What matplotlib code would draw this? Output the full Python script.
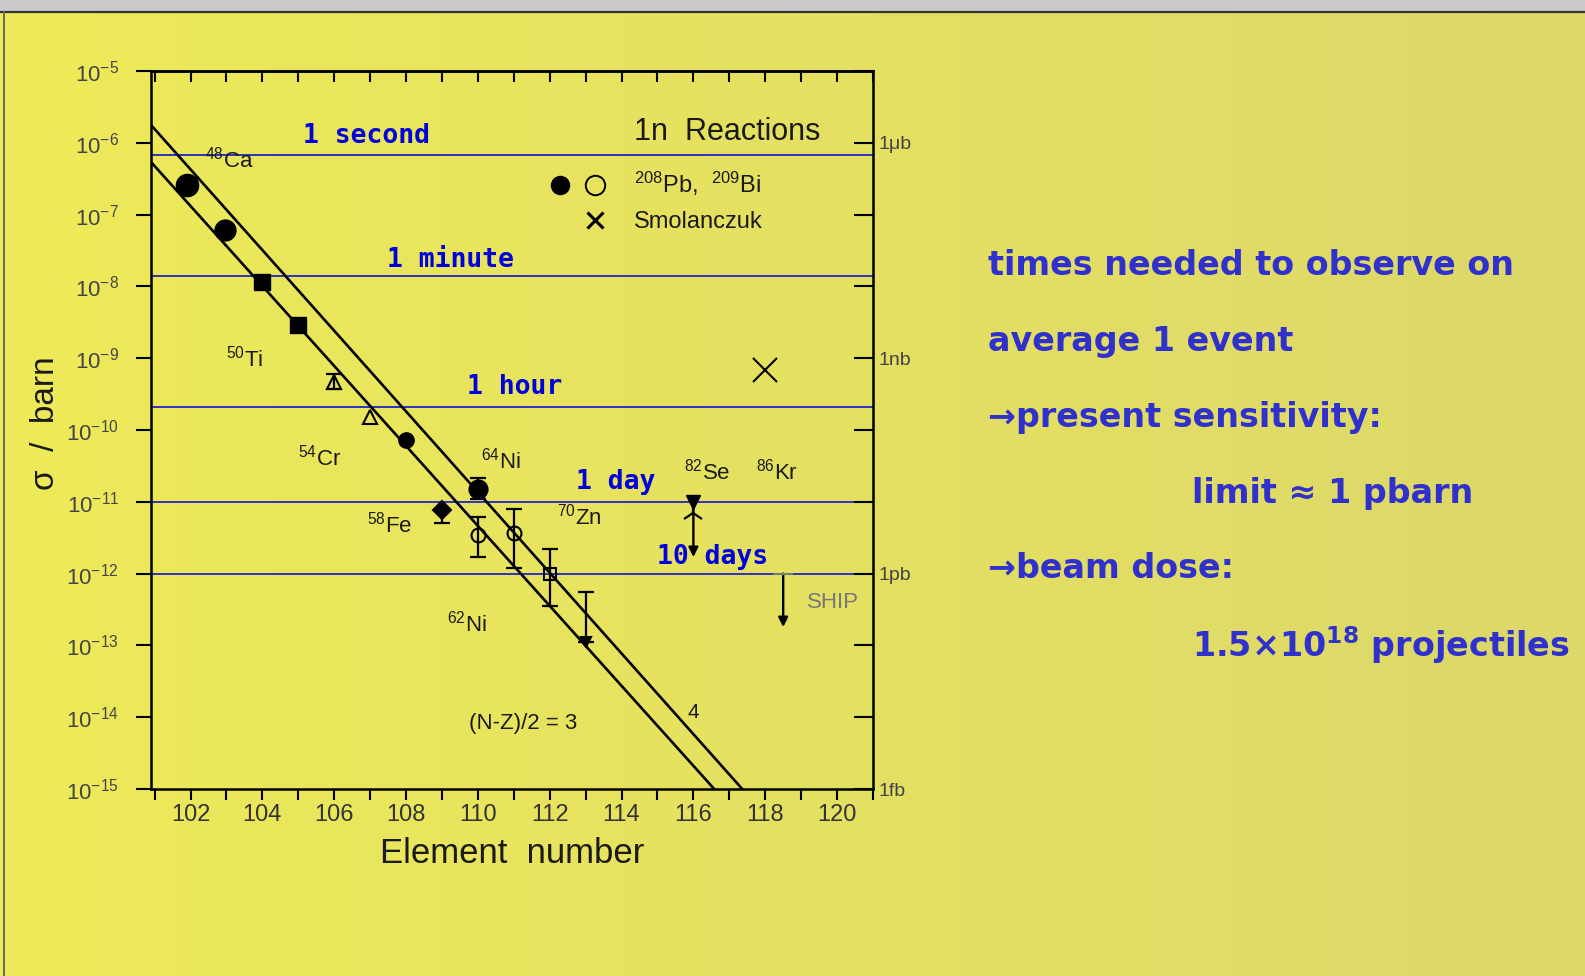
"""Evaporation-residue cross sections of 1n cold-fusion reactions vs. element
number, with the running times needed to see one event at SHIP."""

import numpy as np
import matplotlib
matplotlib.use("Agg")
import matplotlib.pyplot as plt
from matplotlib.legend_handler import HandlerTuple
from matplotlib.lines import Line2D
from matplotlib.ticker import FixedLocator, FuncFormatter, MultipleLocator, NullLocator

plt.rcParams["font.family"] = ["Liberation Sans Narrow", "Liberation Sans", "DejaVu Sans"]
plt.rcParams["mathtext.default"] = "regular"

# --- data -------------------------------------------------------------------
# filled symbols: 208Pb targets, open symbols: 209Bi targets
Z_CIRC = [101.9, 102.95, 108.0]
SIG_CIRC = [2.6e-7, 6.1e-8, 7.2e-11]
CIRC_MS = [16, 15, 11]

Z_SQ = [104.0, 105.0]
SIG_SQ = [1.16e-8, 2.9e-9]

Z_TRI = [106.0, 107.0]
SIG_TRI = [4.7e-10, 1.53e-10]

# points with error bars
ERR_Z = [106.0, 109.0, 110.0, 110.0, 111.0, 112.0, 113.0]
ERR_SIG = [4.7e-10, 7.7e-12, 1.5e-11, 3.45e-12, 3.7e-12, 1.0e-12, 1.13e-13]
ERR_LO = [3.7e-10, 5.0e-12, 1.1e-11, 1.72e-12, 1.19e-12, 3.5e-13, 1.13e-13]
ERR_HI = [6.0e-10, 7.7e-12, 2.16e-11, 6.2e-12, 7.9e-12, 2.2e-12, 5.6e-13]
ERR_MARKER = ["^", "D", "o", "o", "o", "s", "v"]
ERR_FILLED = [False, True, True, False, False, False, True]
ERR_MS = [0, 9, 13, 10, 10, 9, 7]

# element 116 point and SHIP limit (arrows pointing down)
ARROW_Z = [116.0, 118.5]
ARROW_TOP = [1.0e-11, 1.0e-12]
ARROW_BOTTOM = [1.7e-12, 1.8e-13]
Z116_MID = 7.0e-12

# Smolanczuk prediction
Z_SMOL = [118.0]
SIG_SMOL = [6.9e-10]

# systematics lines, (N-Z)/2 = 3 and 4
SYST_Z = [[100.9, 116.58], [100.9, 117.36]]
SYST_SIG = [[5.4e-7, 1.0e-15], [1.77e-6, 1.0e-15]]
SYST_LABELS = ["(N-Z)/2 = 3", "4"]

# cross section seen once per time span at present beam dose
TIME_SIG = [6.7e-7, 1.4e-8, 2.1e-10, 1.0e-11, 1.0e-12]
TIME_LABELS = ["1 second", "1 minute", "1 hour", "1 day", "10 days"]
TIME_TEXT_Z = [105.12, 107.48, 109.71, 112.74, 114.99]
TIME_TEXT_SIG = [1.24e-6, 2.33e-8, 3.97e-10, 1.89e-11, 1.70e-12]

# projectile labels
PROJ_LABELS = ["$^{48}$Ca", "$^{50}$Ti", "$^{54}$Cr", "$^{58}$Fe", "$^{64}$Ni",
               "$^{62}$Ni", "$^{70}$Zn", "$^{82}$Se", "$^{86}$Kr"]
PROJ_Z = [102.39, 103.0, 104.98, 106.9, 110.1, 109.15, 112.19, 115.75, 117.75]
PROJ_SIG = [5.8e-7, 1.0e-9, 4.1e-11, 4.8e-12, 3.8e-11, 2.0e-13, 6.2e-12,
            2.6e-11, 2.6e-11]

UNIT_VALUES = [1e-6, 1e-9, 1e-12, 1e-15]
UNIT_LABELS = ["1μb", "1nb", "1pb", "1fb"]

SIDE_TEXT = [
    ("times needed to observe on", 0),
    ("average 1 event", 0),
    ("→present sensitivity:", 0),
    ("limit ≈ 1 pbarn", 1),
    ("→beam dose:", 0),
    ("1.5×10$^{18}$ projectiles", 1),
]

W, H = 1585, 976
BLUE = "#2323c8"
TEXT_BLUE = "#3030cc"

fig = plt.figure(figsize=(W / 100, H / 100), dpi=100)

# slide background: yellow left-to-right gradient, grey strip on top
bg = fig.add_axes([0, 0, 1, 1], zorder=-10)
t = np.linspace(0, 1, 256)[:, None]
left_rgb = np.array([238, 234, 88]) / 255
right_rgb = np.array([220, 216, 106]) / 255
grad = left_rgb * (1 - t) + right_rgb * t
bg.imshow(grad[None, :, :], aspect="auto", extent=[0, 1, 0, 1])
bg.fill_between([0, 1], 1 - 11 / H, 1, color="#c9c9c9", lw=0)
bg.plot([0, 1], [1 - 12 / H, 1 - 12 / H], color="#333333", lw=1.6)
bg.plot([4 / W, 4 / W], [0, 1 - 12 / H], color="#666666", lw=1.4)
bg.set_xlim(0, 1)
bg.set_ylim(0, 1)
bg.set_axis_off()

# --- main panel ---------------------------------------------------------------
ax = fig.add_axes([151 / W, 1 - 789 / H, 722 / W, 718 / H])
ax.set_facecolor("none")
ax.set_yscale("log")
ax.set_xlim(100.9, 121.0)
ax.set_ylim(1e-15, 1e-5)

for zs, ss in zip(SYST_Z, SYST_SIG):
    ax.plot(zs, ss, color="black", lw=1.9, zorder=3)

for sig in TIME_SIG:
    ax.axhline(sig, color=BLUE, lw=1.3, zorder=2)
for label, z, s in zip(TIME_LABELS, TIME_TEXT_Z, TIME_TEXT_SIG):
    ax.text(z, s, label, color="#0000dd", fontsize=19, fontweight="bold",
            family="DejaVu Sans Mono", ha="left", va="center", zorder=5)

for z, s, ms in zip(Z_CIRC, SIG_CIRC, CIRC_MS):
    ax.plot(z, s, ls="none", marker="o", color="black", ms=ms, zorder=4)
ax.plot(Z_SQ, SIG_SQ, ls="none", marker="s", color="black", ms=12, zorder=4)
ax.plot(Z_TRI, SIG_TRI, ls="none", marker="^", mfc="none", mec="black",
        mew=1.5, ms=10, zorder=4)

for z, s, lo, hi, mk, filled, ms in zip(ERR_Z, ERR_SIG, ERR_LO, ERR_HI,
                                         ERR_MARKER, ERR_FILLED, ERR_MS):
    ax.errorbar([z], [s], yerr=[[s - lo], [hi - s]], fmt="none", ecolor="black",
                elinewidth=1.6, capsize=6, capthick=1.6, zorder=4)
    if ms:
        ax.plot(z, s, ls="none", marker=mk, ms=ms, mec="black", mew=1.5,
                mfc="black" if filled else "none", zorder=5)

for z, top, bottom in zip(ARROW_Z, ARROW_TOP, ARROW_BOTTOM):
    ax.annotate("", xy=(z, bottom), xytext=(z, top),
                arrowprops=dict(arrowstyle="-|>", color="black", lw=1.7,
                                mutation_scale=14, shrinkA=0, shrinkB=0),
                zorder=4)
ax.plot(ARROW_Z[0], ARROW_TOP[0], ls="none", marker="v", color="black", ms=10,
        zorder=5)
ax.plot(ARROW_Z[0], Z116_MID, ls="none", marker="2", color="black", ms=16,
        mew=1.6, zorder=5)
ax.plot(ARROW_Z[1], ARROW_TOP[1], ls="none", marker="_", color="#777777",
        ms=14, mew=1.5, zorder=5)

ax.plot(Z_SMOL, SIG_SMOL, ls="none", marker="x", color="black", ms=17,
        mew=1.5, zorder=4)

for label, z, s in zip(PROJ_LABELS, PROJ_Z, PROJ_SIG):
    ax.text(z, s, label, fontsize=16, color="#1a1a1a", ha="left", va="center")
ax.text(119.17, 3.9e-13, "SHIP", fontsize=16, color="#777777", ha="left",
        va="center")
ax.text(109.76, 8.3e-15, SYST_LABELS[0], fontsize=16, color="#1a1a1a",
        ha="left", va="center")
ax.text(115.83, 1.17e-14, SYST_LABELS[1], fontsize=15, color="#1a1a1a",
        ha="left", va="center")
ax.text(114.36, 1.41e-6, "1n  Reactions", fontsize=22, color="#1a1a1a",
        ha="left", va="center")

h_full = Line2D([], [], ls="none", marker="o", color="black", ms=13)
h_open = Line2D([], [], ls="none", marker="o", mfc="none", mec="black",
                mew=1.4, ms=14)
h_blank = Line2D([], [], ls="none")
h_cross = Line2D([], [], ls="none", marker="x", color="black", ms=12, mew=2.2)
ax.legend([(h_full, h_open), (h_blank, h_cross)],
          ["$^{208}$Pb,  $^{209}$Bi", "Smolanczuk"],
          handler_map={tuple: HandlerTuple(ndivide=None, pad=0.8)},
          loc="upper left", bbox_to_anchor=(0.555, 0.862), frameon=False,
          borderaxespad=0, borderpad=0, handlelength=2.2, handletextpad=1.3,
          labelspacing=0.55, fontsize=17, labelcolor="#1a1a1a")

# axes, ticks
for sp in ax.spines.values():
    sp.set_linewidth(1.8)
ax.xaxis.set_major_locator(MultipleLocator(2))
ax.xaxis.set_minor_locator(MultipleLocator(1))
ax.yaxis.set_major_locator(FixedLocator([10.0 ** k for k in range(-15, -4)]))
ax.yaxis.set_minor_locator(NullLocator())
ax.tick_params(axis="x", which="both", direction="out", length=8, width=1.5,
               top=False, labelsize=17, labelcolor="#333333", pad=3)
ax.tick_params(axis="y", which="major", direction="out", length=11, width=1.5,
               right=False, labelsize=16, labelcolor="#444444", pad=12)

top = ax.secondary_xaxis("top")
top.xaxis.set_major_locator(MultipleLocator(1))
top.tick_params(direction="in", length=8, width=1.5, labeltop=False)
top.spines["top"].set_linewidth(1.8)

axr = ax.twinx()
axr.set_yscale("log")
axr.set_ylim(ax.get_ylim())
axr.yaxis.set_major_locator(FixedLocator([10.0 ** k for k in range(-15, -4)]))
axr.yaxis.set_minor_locator(NullLocator())


def unit_label(v, _pos):
    for uv, ul in zip(UNIT_VALUES, UNIT_LABELS):
        if np.isclose(np.log10(v), np.log10(uv)):
            return ul
    return ""


axr.yaxis.set_major_formatter(FuncFormatter(unit_label))
axr.tick_params(axis="y", direction="in", length=14, width=1.5, labelsize=14,
                labelcolor="#444444", pad=4)

ax.set_xlabel("Element  number", fontsize=25, color="#1a1a1a", labelpad=8)
ax.set_ylabel("σ  /  barn", fontsize=24, color="#1a1a1a")
ax.yaxis.set_label_coords(-0.125, 0.51)

# explanation on the right
row_y = 265
for text, indent in SIDE_TEXT:
    x = 988 if indent == 0 else 1192
    fig.text(x / W, 1 - row_y / H, text, color=TEXT_BLUE, fontsize=24,
             fontweight="bold", family="DejaVu Sans", ha="left", va="center")
    row_y += 76

fig.savefig("out.png", dpi=100)
